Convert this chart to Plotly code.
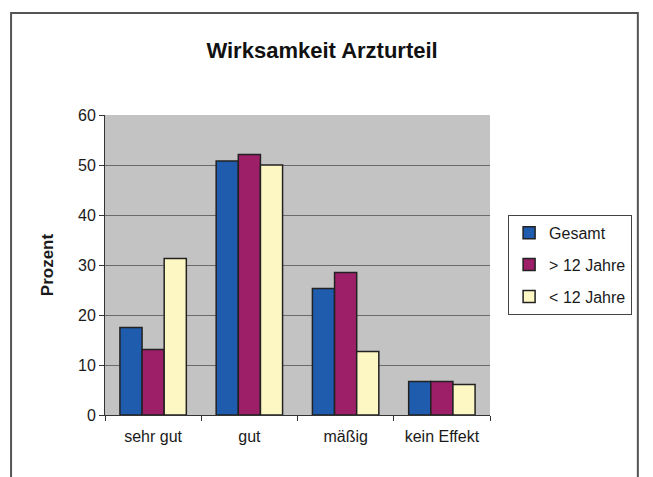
import plotly.graph_objects as go

# values (percent)
categories = ["sehr gut", "gut", "mäßig", "kein Effekt"]
gesamt = [17.5, 50.8, 25.3, 6.7]
ueber_12 = [13.1, 52.1, 28.5, 6.7]
unter_12 = [31.3, 50.0, 12.7, 6.1]

series = [
    ("Gesamt", gesamt, "#1f5cae"),
    ("> 12 Jahre", ueber_12, "#9c1f68"),
    ("< 12 Jahre", unter_12, "#fdf7c4"),
]

FONT = "Liberation Sans, Arial, sans-serif"

fig = go.Figure()
for i, (name, vals, col) in enumerate(series):
    fig.add_trace(go.Bar(
        x=categories, y=vals, name=name, legendgroup=name,
        marker=dict(color=col, line=dict(color="#222222", width=1.5)),
    ))

# page body adds an 8px offset, so margins are shifted by that amount
fig.update_layout(
    width=653, height=477,
    margin=dict(l=97, r=171, t=107, b=70),
    paper_bgcolor="white", plot_bgcolor="#c3c3c3",
    barmode="group", bargap=0.31, bargroupgap=0,
    font=dict(family=FONT, size=16, color="#1a1a1a"),
    title=dict(text="<b>Wirksamkeit Arzturteil</b>", x=0.481, xanchor="center",
               y=0.912, yanchor="middle", font=dict(size=22, color="#111111")),
    xaxis=dict(showline=True, linecolor="#333333", linewidth=1,
               ticks="outside", ticklen=5, tickcolor="#333333",
               tickson="boundaries", showgrid=False, ticklabelstandoff=7),
    yaxis=dict(range=[0, 60], dtick=10, showline=True, linecolor="#333333",
               linewidth=1, ticks="outside", ticklen=5, tickcolor="#333333",
               gridcolor="#6a6a6a", gridwidth=1, zeroline=False,
               title=dict(text="<b>Prozent</b>", standoff=20,
                          font=dict(size=17))),
    legend=dict(x=1.047, xanchor="left", y=0.667, yanchor="top",
                bordercolor="#444444", borderwidth=1, bgcolor="white",
                tracegroupgap=8, itemwidth=30, font=dict(size=16)),
    showlegend=True,
    shapes=[dict(type="rect", xref="paper", yref="paper",
                 x0=-0.244, x1=1.384, y0=-0.3, y1=1.34,
                 line=dict(color="#555555", width=2), layer="below")],
)

fig.write_html("out.html")
